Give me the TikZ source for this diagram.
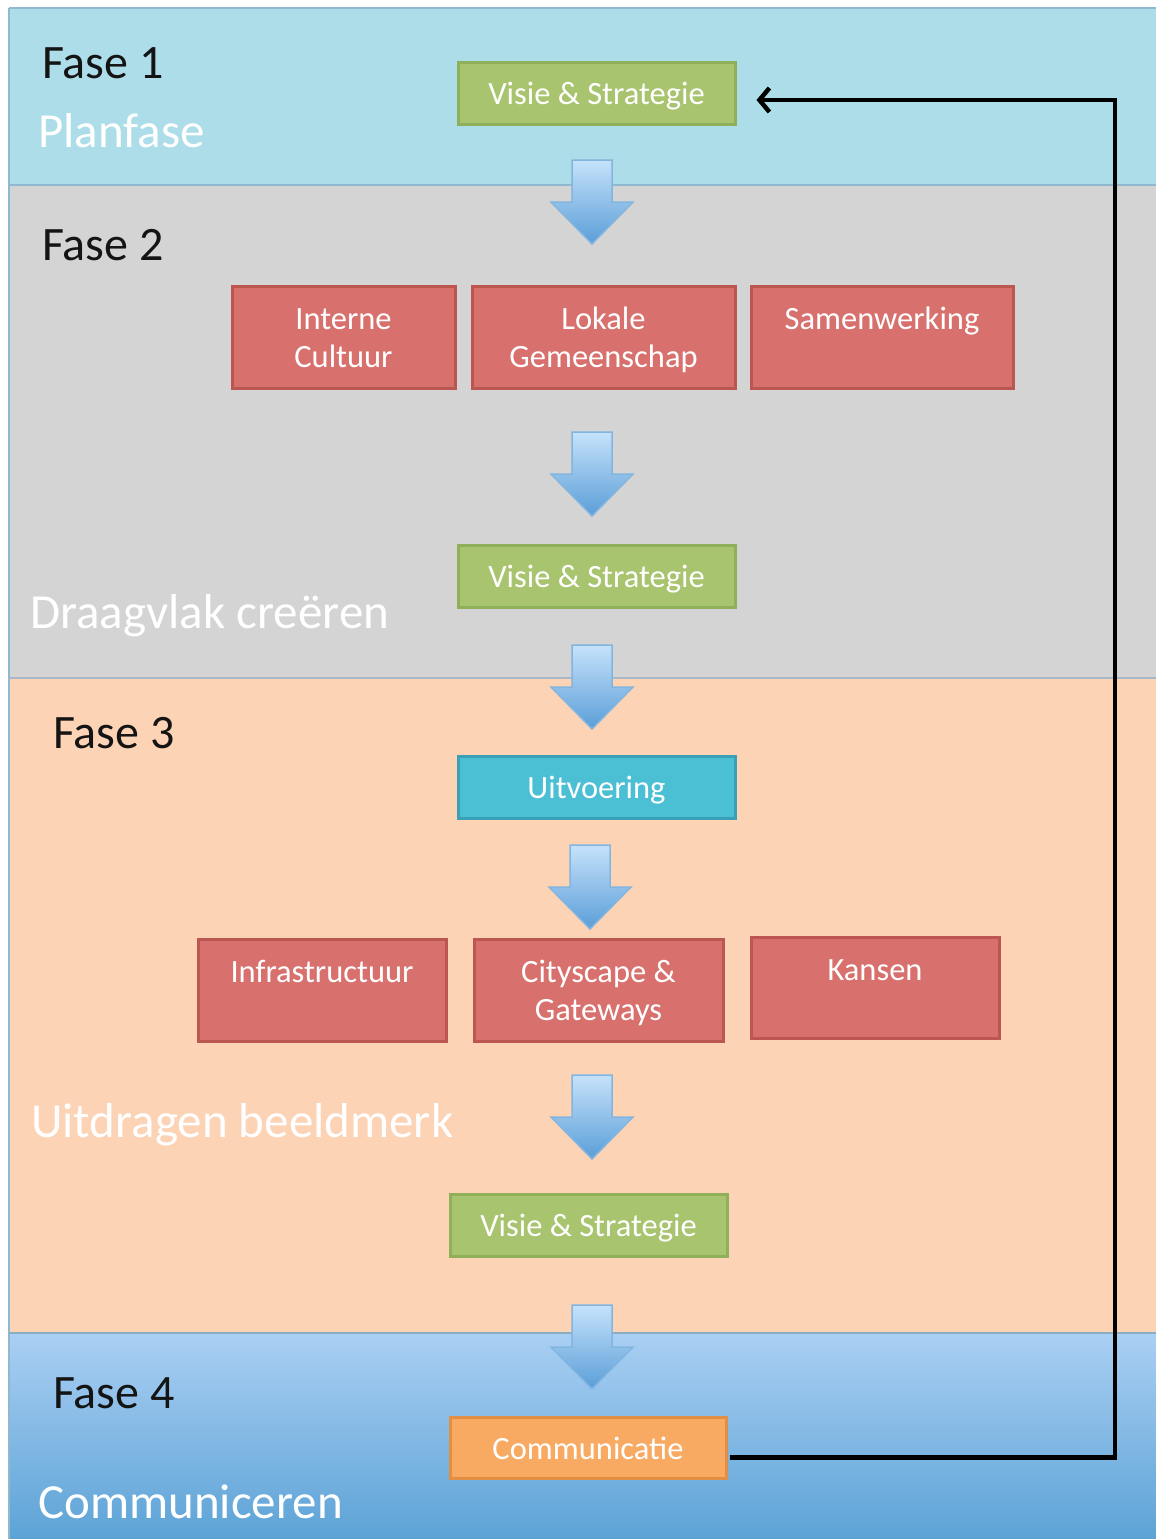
\documentclass[tikz,border=0pt]{standalone}
\usepackage{fontspec}
\setmainfont{Carlito}
\usetikzlibrary{arrows.meta,calc}
\definecolor{bandA}{HTML}{ADDDE8}
\definecolor{bandAline}{HTML}{8EB9CF}
\definecolor{bandB}{HTML}{D4D4D4}
\definecolor{bandBline}{HTML}{A8B8C8}
\definecolor{bandC}{HTML}{FCD3B5}
\definecolor{bandDtop}{HTML}{AACFF3}
\definecolor{bandDbot}{HTML}{5CA3D6}
\definecolor{grnF}{HTML}{A9C46E}
\definecolor{grnD}{HTML}{90AF5A}
\definecolor{redF}{HTML}{D8716E}
\definecolor{redD}{HTML}{BB5651}
\definecolor{tealF}{HTML}{4BBFD4}
\definecolor{tealD}{HTML}{3AA0B8}
\definecolor{orgF}{HTML}{F8AA63}
\definecolor{orgD}{HTML}{E28F44}
\definecolor{arrT}{HTML}{C6E2FA}
\definecolor{arrB}{HTML}{5A9ED8}
\definecolor{arrD}{HTML}{82B5E0}
\newcommand\blkarrow[2]{%
  \shade[top color=arrT,bottom color=arrB,draw=arrD,line width=1.5]
    (#1-20,#2) -- (#1+20,#2) -- (#1+20,#2+42) -- (#1+41,#2+42) -- (#1,#2+84)
    -- (#1-41,#2+42) -- (#1-20,#2+42) -- cycle;}
\newcommand\bxt[1]{\raisebox{-4pt}[\height][\depth]{\begin{tabular}{@{}c@{}}#1\end{tabular}}}
\tikzset{
  box/.style={draw, line width=3, minimum height=62, text=white,
    font=\fontsize{32.5}{38}\selectfont, align=center, inner sep=0},
  gbox/.style={box, fill=grnF, draw=grnD, minimum width=277},
  rbox/.style={box, fill=redF, draw=redD, minimum height=102},
  fase/.style={anchor=base west, inner sep=0, text=black!92, font=\fontsize{48}{54}\selectfont},
  phase/.style={anchor=base west, inner sep=0, text=white, font=\fontsize{49}{56}\selectfont},
  fbline/.style={line width=4.5, black, -{Straight Barb[length=10, width=24]}}
}
\begin{document}
\begin{tikzpicture}[x=1pt,y=-1pt]
\useasboundingbox (0,0) rectangle (1156,1539);
\fill[white] (0,0) rectangle (1156,1539);
% bands
\fill[bandA] (9,8) rectangle (1156,185);
\fill[bandB] (9,185) rectangle (1156,678);
\fill[bandC] (9,678) rectangle (1156,1333);
\shade[top color=bandDtop, bottom color=bandDbot] (9,1333) rectangle (1156,1539);
\draw[bandAline, line width=1.2] (9,8) -- (1156,8);
\draw[bandAline, line width=1.2] (9,8) -- (9,1539);
\draw[bandAline, line width=2] (9,185) -- (1156,185);
\draw[bandBline, line width=2] (9,678) -- (1156,678);
\draw[bandAline!80!gray, line width=2] (9,1333) -- (1156,1333);
% labels
\node[fase] (f1) at (42,78) {Fase 1};
\node[phase] (p1) at (38,147) {Planfase};
\node[fase] (f2) at (42,260) {Fase 2};
\node[phase] (p2) at (30,628) {Draagvlak creëren};
\node[fase] (f3) at (53,748) {Fase 3};
\node[phase] (p3) at (31,1137) {Uitdragen beeldmerk};
\node[fase] (f4) at (53,1408) {Fase 4};
\node[phase] (p4) at (38,1518) {Communiceren};
% block arrows
\blkarrow{592}{160}
\blkarrow{592}{432}
\blkarrow{592}{645}
\blkarrow{590}{845}
\blkarrow{592}{1075}
\blkarrow{592}{1305}
% boxes
\node[gbox] (v1) at (596.5,93) {\bxt{Visie \& Strategie}};
\node[rbox, minimum width=223] (ic) at (343.5,337) {\bxt{Interne\\Cultuur}};
\node[rbox, minimum width=263] (lg) at (603.5,337) {\bxt{Lokale\\Gemeenschap}};
\node[rbox, minimum width=262] (sw) at (882,337) {\bxt{Samenwerking\\\phantom{X}}};
\node[gbox] (v2) at (596.5,576) {\bxt{Visie \& Strategie}};
\node[box, fill=tealF, draw=tealD, minimum width=277] (uv) at (596.5,787) {\bxt{Uitvoering}};
\node[rbox, minimum width=248] (inf) at (322,990) {\bxt{Infrastructuur\\\phantom{X}}};
\node[rbox, minimum width=249] (cg) at (598.5,990) {\bxt{Cityscape \&\\Gateways}};
\node[rbox, minimum width=248, minimum height=101] (ka) at (875,987.5) {\bxt{Kansen\\\phantom{X}}};
\node[gbox] (v3) at (588.5,1225) {\bxt{Visie \& Strategie}};
\node[box, fill=orgF, draw=orgD, minimum width=276, minimum height=61] (co) at (588,1447.5) {\bxt{Communicatie}};
% feedback connector
\coordinate (rc) at (1115,100);
\draw[fbline] ([shift={(2,10)}]co.east) -| (rc) -- ($(v1.east |- rc)+(20,0)$);
\end{tikzpicture}
\end{document}
